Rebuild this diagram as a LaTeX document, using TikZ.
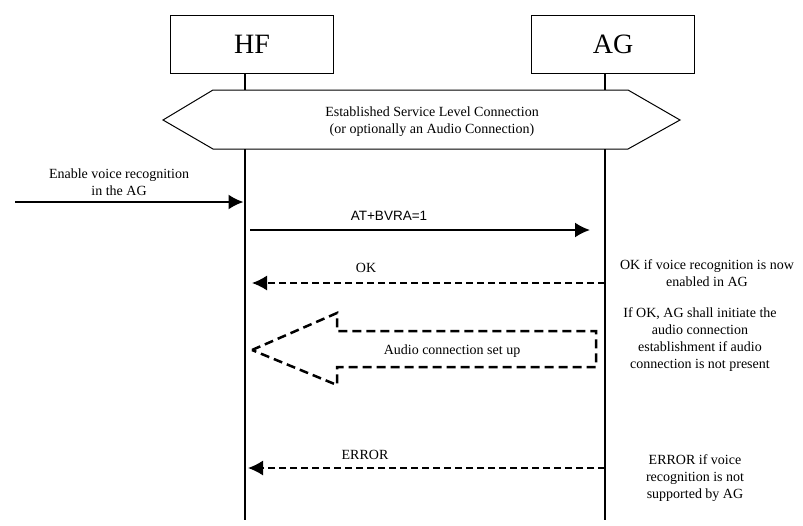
\documentclass[tikz,border=0pt]{standalone}
\usepackage{fontspec}
\setmainfont{Liberation Serif}
\newfontfamily\arialfont{Liberation Sans}
\usetikzlibrary{arrows.meta,calc,positioning}

\begin{document}
\begin{tikzpicture}[x=1pt,y=-1pt,
                      entity/.style={draw,line width=0.8pt,minimum width=163pt,minimum height=58pt,inner sep=0pt,font=\fontsize{28}{28}\selectfont},
                      lifeline/.style={line width=2.6pt},
                      msg/.style={line width=2pt,-{Latex[length=15pt,width=15pt]}},
                      reply/.style={line width=1.5pt,dash pattern=on 7pt off 4pt,-{Latex[length=15pt,width=15pt]}},
                      txt/.style={font=\fontsize{14}{17}\selectfont,align=center,inner sep=0pt}]
                      \useasboundingbox (0,0) rectangle (803,525);
                      % entities
                      \node[entity](hf)at(252,44){HF};
                      \node[entity](ag)at(613,44){AG};
                      \coordinate(hfx)at([xshift=-7pt]hf.south);
                      \coordinate(agx)at([xshift=-8pt]ag.south);
                      \coordinate(top)at(0,90);
                      \coordinate(bot)at(0,149);
                      \coordinate(end)at(0,520);
                      % service level connection
                      \draw[line width=1pt](163,120)--(213,90)--(628,90)--(680,120)--(628,149)--(213,149)--cycle;
                      \node[txt](slc)at(432,122){Established Service Level Connection\\(or optionally an Audio Connection)};
                      \foreach \x in {hfx,agx}{
                        \draw[lifeline](\x)--(\x |- top);
                        \draw[lifeline](\x |- bot)--(\x |- end);
                      }
                      % messages
                      \coordinate(user)at(15,202);
                      \node[txt](enable)at(119,182){Enable voice recognition\\in the AG};
                      \draw[msg](user)--([xshift=-1.5pt]hfx |- user);
                      \coordinate(m1)at(0,230);
                      \draw[msg]([xshift=5pt]hfx |- m1)--([xshift=-15pt]agx |- m1);
                      \node[txt,font=\arialfont\fontsize{13.5}{16}\selectfont](bvra)at(389,216){AT+BVRA=1};
                      \coordinate(m2)at(0,283);
                      \draw[reply](agx |- m2)--([xshift=7pt]hfx |- m2);
                      \node[txt](ok)at(366,268){OK};
                      \node[txt](okinfo)at(707,273){OK if voice recognition is now\\enabled in AG};
                      % audio connection
                      \draw[line width=2.5pt,dash pattern=on 9pt off 5pt](252,350)--(337,313)--(337,331)--(596,331)--(596,367)--(337,367)--(337,385)--cycle;
                      \node[txt](audio)at(452,351){Audio connection set up};
                      \node[txt](audioinfo)at(700,340){If OK, AG shall initiate the\\audio connection\\establishment if audio\\connection is not present};
                      \coordinate(m3)at(0,468);
                      \draw[reply](agx |- m3)--([xshift=3pt]hfx |- m3);
                      \node[txt](error)at(365,455){ERROR};
                      \node[txt](errinfo)at(695,478){ERROR if voice\\recognition is not\\supported by AG};
                  \end{tikzpicture}
\end{document}
